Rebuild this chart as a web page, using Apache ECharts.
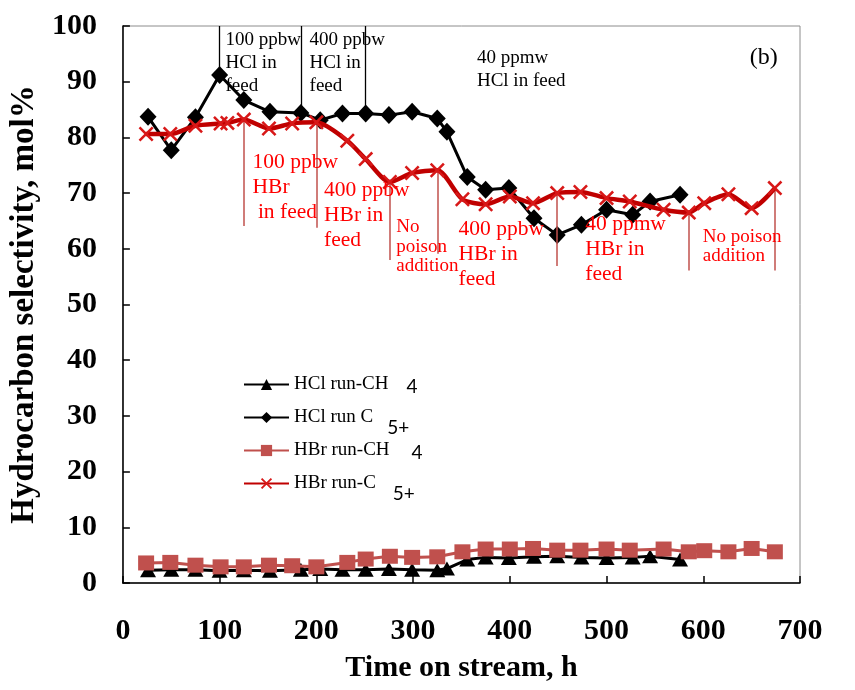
<!DOCTYPE html>
<html>
<head>
<meta charset="utf-8">
<script src="https://cdn.jsdelivr.net/npm/echarts@6/dist/echarts.min.js"></script>
<style>
  html, body { margin: 0; padding: 0; background: #ffffff; }
  #chart { width: 855px; height: 690px; }
</style>
</head>
<body>
<div id="chart"></div>
<script>
// Time on stream (h) for the HCl run
const hclTime = [26, 50, 75, 100, 125, 152, 184, 204, 227, 251, 275, 299, 325, 335, 356, 375, 399, 425, 449, 474, 500, 527, 545, 576];
// HCl run selectivities, mol%
const hclCH4 = [2.3, 2.4, 2.4, 2.2, 2.3, 2.2, 2.4, 2.5, 2.4, 2.4, 2.5, 2.4, 2.3, 2.6, 4.2, 4.6, 4.5, 4.7, 4.8, 4.6, 4.5, 4.6, 4.8, 4.2];
const hclC5 = [83.7, 77.7, 83.6, 91.2, 86.7, 84.6, 84.4, 83.1, 84.3, 84.3, 84.0, 84.6, 83.4, 81.0, 72.9, 70.6, 70.9, 65.5, 62.5, 64.3, 67.0, 66.1, 68.5, 69.7];

// HBr run, CH4
const hbrTime = [24, 49, 75, 101, 125, 151, 175, 200, 232, 251, 276, 299, 325, 351, 375, 400, 424, 449, 473, 500, 524, 559, 585, 601, 626, 650, 674];
const hbrCH4 = [3.6, 3.7, 3.2, 2.9, 2.9, 3.2, 3.1, 2.9, 3.7, 4.3, 4.8, 4.6, 4.7, 5.6, 6.1, 6.1, 6.2, 5.9, 5.9, 6.1, 5.9, 6.1, 5.6, 5.8, 5.6, 6.2, 5.6];
// HBr run, C5+
const hbrC5Time = [24, 49, 75, 101, 108, 125, 151, 175, 200, 232, 251, 276, 299, 325, 351, 375, 400, 424, 449, 473, 500, 524, 559, 585, 601, 626, 650, 674];
const hbrC5 = [80.6, 80.6, 82.1, 82.5, 82.6, 83.2, 81.6, 82.5, 82.7, 79.4, 76.1, 72.0, 73.6, 74.1, 68.9, 68.0, 69.4, 68.2, 70.0, 70.2, 69.1, 68.5, 67.0, 66.5, 68.2, 69.8, 67.3, 70.9];

// Feed changes: vertical markers dropped onto the C5+ curves
const hclEventIdx = [3, 6, 9, 23];
const hclEventTop = [100, 100, 100, 101.5];
const hbrEventIdx = [5, 8, 11, 13, 18, 23, 27];
const hbrEventBottom = [64.1, 63.8, 58.0, 59.1, 56.9, 56.1, 56.1];

// Axis ticks
const xTicks = { min: 0, max: 700, step: 100 };
const yTicks = { min: 0, max: 100, step: 10 };

// Text notes, anchored (top-left) in data units [h, mol%]
const hclNotes = [
  { text: '100 ppbw\nHCl in\nfeed', at: [106, 99.6] },
  { text: '400 ppbw\nHCl in\nfeed', at: [193, 99.6] },
  { text: '40 ppmw\nHCl in feed', at: [366, 96.4] }
];
const hbrNotes = [
  { text: '100 ppbw\nHBr\n in feed', at: [134, 77.8] },
  { text: '400 ppbw\nHBr in\nfeed', at: [208, 72.7] },
  { text: '400 ppbw\nHBr in\nfeed', at: [347, 65.8] },
  { text: '40 ppmw\nHBr in\nfeed', at: [478, 66.7] }
];
const noPoisonNotes = [
  { text: 'No\npoison\naddition', at: [282.6, 65.6] },
  { text: 'No poison\naddition', at: [599.5, 63.9] }
];
const panelTag = { text: '(b)', at: [648, 96.5] };

const pairs = (xs, ys) => xs.map((x, i) => [x, ys[i]]);

const SERIF = '"Liberation Serif", "Times New Roman", serif';
const SANS = 'Lato, "Noto Sans", sans-serif';
const crossPath = 'path://M0,1.2L1.2,0L5,3.8L8.8,0L10,1.2L6.2,5L10,8.8L8.8,10L5,6.2L1.2,10L0,8.8L3.8,5Z';

const legendText = {
  'HCl run-CH4': '{m|HCl run-CH}{s4a|4}',
  'HCl run C5+': '{m|HCl run C}{s5a|5+}',
  'HBr run-CH4': '{m|HBr run-CH}{s4b|4}',
  'HBr run-C5+': '{m|HBr run-C}{s5b|5+}'
};

const axisFont = { fontFamily: SERIF, fontWeight: 'bold', fontSize: 30, color: '#000' };

const chart = echarts.init(document.getElementById('chart'), null, { renderer: 'canvas' });

chart.setOption({
  animation: false,
  backgroundColor: '#ffffff',
  grid: { left: 122, right: 55, top: 26, bottom: 107, show: true, borderColor: '#8c8c8c', borderWidth: 1, backgroundColor: 'transparent' },
  xAxis: {
    type: 'value', min: xTicks.min, max: xTicks.max, interval: xTicks.step,
    axisLine: { show: true, lineStyle: { color: '#000', width: 1.5 } },
    axisTick: { show: true, inside: true, length: 7, lineStyle: { color: '#000', width: 1.5 } },
    axisLabel: Object.assign({ margin: 33 }, axisFont),
    splitLine: { show: false },
    name: 'Time on stream, h', nameLocation: 'middle', nameGap: 70,
    nameTextStyle: { fontFamily: SERIF, fontWeight: 'bold', fontSize: 30, color: '#000' }
  },
  yAxis: {
    type: 'value', min: yTicks.min, max: yTicks.max, interval: yTicks.step,
    axisLine: { show: true, lineStyle: { color: '#000', width: 1.5 } },
    axisTick: { show: true, inside: true, length: 7, lineStyle: { color: '#000', width: 1.5 } },
    axisLabel: Object.assign({ margin: 26 }, axisFont),
    splitLine: { show: false },
    name: 'Hydrocarbon selectivity, mol%', nameLocation: 'middle', nameGap: 78, nameRotate: 90,
    nameTextStyle: { fontFamily: SERIF, fontWeight: 'bold', fontSize: 33, color: '#000' }
  },
  legend: {
    orient: 'vertical', left: 243, top: 372, padding: 0,
    itemWidth: 45, itemHeight: 14, itemGap: 1, selectedMode: false,
    data: ['HCl run-CH4', 'HCl run C5+', 'HBr run-CH4', 'HBr run-C5+'],
    formatter: name => legendText[name],
    textStyle: {
      rich: {
        m: { fontFamily: SERIF, fontSize: 19, color: '#000', lineHeight: 20, padding: [3, 0, 3, 0] },
        s4a: { fontFamily: SANS, fontSize: 19, color: '#000', lineHeight: 20, padding: [5, 0, 1, 18] },
        s4b: { fontFamily: SANS, fontSize: 19, color: '#000', lineHeight: 20, padding: [5, 0, 1, 22] },
        s5a: { fontFamily: SANS, fontSize: 19, color: '#000', lineHeight: 6, padding: [20, 0, 0, 14] },
        s5b: { fontFamily: SANS, fontSize: 19, color: '#000', lineHeight: 6, padding: [20, 0, 0, 17] }
      }
    }
  },
  series: [
    {
      name: 'HCl run-CH4', type: 'line', data: pairs(hclTime, hclCH4),
      symbol: 'triangle', symbolSize: [16, 14],
      lineStyle: { color: '#000', width: 3 }, itemStyle: { color: '#000' }, z: 2
    },
    {
      name: 'HCl run C5+', type: 'line', data: pairs(hclTime, hclC5),
      symbol: 'diamond', symbolSize: [17, 18],
      lineStyle: { color: '#000', width: 3 }, itemStyle: { color: '#000' }, z: 3,
      markLine: {
        silent: true, symbol: 'none', animation: false, label: { show: false },
        lineStyle: { color: '#000', width: 1.3, type: 'solid' },
        emphasis: { disabled: true },
        data: hclEventIdx.map((i, k) => [
          { coord: [hclTime[i], hclEventTop[k]] },
          { coord: [hclTime[i], hclC5[i]] }
        ])
      }
    },
    {
      name: 'HBr run-CH4', type: 'line', data: pairs(hbrTime, hbrCH4),
      symbol: 'rect', symbolSize: [16, 15],
      lineStyle: { color: '#C0504D', width: 3 }, itemStyle: { color: '#C0504D' }, z: 4
    },
    {
      name: 'HBr run-C5+', type: 'line', data: pairs(hbrC5Time, hbrC5),
      symbol: crossPath, symbolSize: 15, smooth: 0.25,
      lineStyle: { color: '#C00000', width: 4.5 }, itemStyle: { color: '#D81818' }, z: 5,
      markLine: {
        silent: true, symbol: 'none', animation: false, label: { show: false },
        lineStyle: { color: '#C0504D', width: 1.5, type: 'solid' },
        emphasis: { disabled: true },
        data: hbrEventIdx.map((i, k) => [
          { coord: [hbrC5Time[i], hbrC5[i]] },
          { coord: [hbrC5Time[i], hbrEventBottom[k]] }
        ])
      }
    }
  ]
});

// Place text notes at their data anchors
function noteItems(notes, color, size, lineHeight) {
  return notes.map(n => {
    const p = chart.convertToPixel({ gridIndex: 0 }, n.at);
    return {
      type: 'text', x: p[0], y: p[1], silent: true, z: 100,
      style: {
        text: n.text, fill: color, fontFamily: SERIF, fontSize: size,
        lineHeight: lineHeight, align: 'left', verticalAlign: 'top'
      }
    };
  });
}

chart.setOption({
  graphic: [].concat(
    noteItems(hclNotes, '#000000', 19, 23),
    noteItems(hbrNotes, '#FF0000', 21.5, 25),
    noteItems(noPoisonNotes, '#FF0000', 19, 19.5),
    noteItems([panelTag], '#000000', 24, 24)
  )
});
</script>
</body>
</html>
